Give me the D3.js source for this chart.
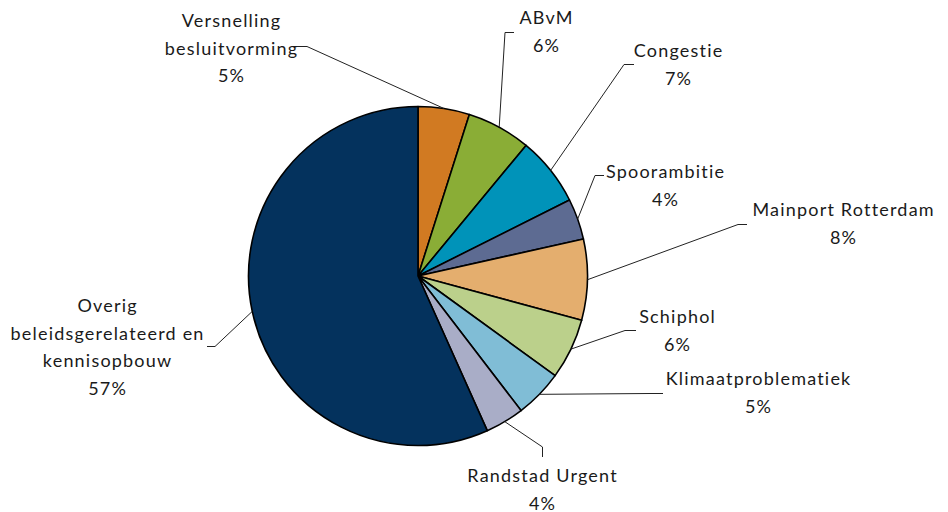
<!DOCTYPE html>
<html>
<head>
<meta charset="utf-8">
<script src="https://cdn.jsdelivr.net/npm/d3@7"></script>
<style>
  body { margin: 0; background: #fff; }
  svg { display: block; }
  text { font-family: Lato, "Open Sans", sans-serif; font-size: 18px; letter-spacing: 1.2px; fill: #1a1a1a; }
</style>
</head>
<body>
<svg></svg>
<script>
var width = 948;
var height = 512;

// data, clockwise from 12 o'clock
var categories = ["Versnelling besluitvorming", "ABvM", "Congestie", "Spoorambitie",
  "Mainport Rotterdam", "Schiphol", "Klimaatproblematiek", "Randstad Urgent",
  "Overig beleidsgerelateerd en kennisopbouw"];
var values = [4.9, 6.1, 6.6, 3.9, 7.7, 5.8, 4.6, 3.7, 56.7];
var labelLines = [["Versnelling", "besluitvorming"], ["ABvM"], ["Congestie"], ["Spoorambitie"],
  ["Mainport Rotterdam"], ["Schiphol"], ["Klimaatproblematiek"], ["Randstad Urgent"],
  ["Overig", "beleidsgerelateerd en", "kennisopbouw"]];
var colors = ["#d17a22", "#8aad36", "#0093b9", "#5d6b92", "#e4ae6e", "#bbd08b", "#80bdd6", "#a9adc7", "#04325d"];

// label layout: text centre x, first baseline y, leader knots (label side first)
var layout = [
  {x: 231, y: 27, knots: [[296, 46.5], [307, 46.5]]},
  {x: 546, y: 24, knots: [[514, 32.5], [505, 32.5]]},
  {x: 678, y: 57, knots: [[634, 64.5], [624, 64.5]]},
  {x: 665, y: 178, knots: [[604, 175.5], [595, 175.5]]},
  {x: 843, y: 216, knots: [[747, 224.5], [738, 224.5]]},
  {x: 677, y: 323, knots: [[636, 330.5], [625, 330.5]]},
  {x: 758, y: 385, knots: [[663, 393.5], [650, 393.5]]},
  {x: 542, y: 482, knots: [[542.5, 457], [542.5, 447]]},
  {x: 107, y: 312, knots: [[207, 346.5], [215, 346.5]]}
];

var cx = 418, cy = 276, radius = 169.5;
var lineH = 27.5;

var svg = d3.select("svg").attr("width", width).attr("height", height);

var data = categories.map(function(c, i) {
  return {name: c, value: values[i], lines: labelLines[i], color: colors[i], lay: layout[i]};
});

var pie = d3.pie().sort(null).value(function(d) { return d.value; });
var arc = d3.arc().innerRadius(0).outerRadius(radius);
var rimArc = d3.arc().innerRadius(radius).outerRadius(radius);

var arcs = pie(data);
var total = d3.sum(values);

var g = svg.append("g").attr("transform", "translate(" + cx + "," + cy + ")");

g.selectAll("path.slice")
  .data(arcs)
  .enter().append("path")
  .attr("class", "slice")
  .attr("d", arc)
  .attr("fill", function(d) { return d.data.color; })
  .attr("stroke", "#000")
  .attr("stroke-width", 1.6)
  .attr("stroke-linejoin", "round");

// leader lines
svg.append("g").selectAll("path.leader")
  .data(arcs)
  .enter().append("path")
  .attr("class", "leader")
  .attr("fill", "none")
  .attr("stroke", "#222")
  .attr("stroke-width", 1)
  .attr("d", function(d) {
    var c = rimArc.centroid(d);
    var pts = d.data.lay.knots.concat([[cx + c[0], cy + c[1]]]);
    return d3.line()(pts);
  });

// labels
var labels = svg.append("g").selectAll("text.label")
  .data(arcs)
  .enter().append("text")
  .attr("class", "label")
  .attr("text-anchor", "middle");

labels.each(function(d) {
  var t = d3.select(this);
  var lines = d.data.lines.concat([Math.round(d.data.value / total * 100) + "%"]);
  lines.forEach(function(l, i) {
    t.append("tspan")
      .attr("x", d.data.lay.x + 0.6)
      .attr("y", d.data.lay.y + i * lineH)
      .text(l);
  });
});
</script>
</body>
</html>
